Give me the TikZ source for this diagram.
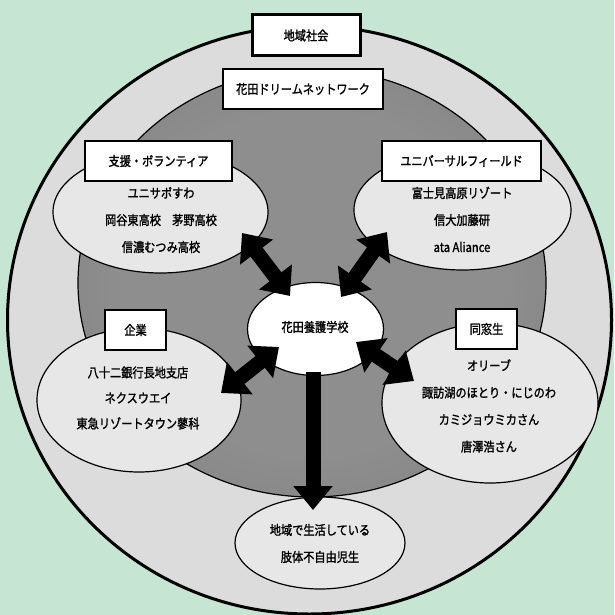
\documentclass[tikz,border=0pt]{standalone}
\usepackage{fontspec}
\usetikzlibrary{shapes.geometric,arrows.meta}
\newfontfamily\jpf[FakeStretch=0.86,FakeBold=1.5]{Noto Sans CJK JP}
\definecolor{bg}{RGB}{199,229,211}
\definecolor{ringin}{RGB}{220,220,220}
\definecolor{ringout}{RGB}{200,200,200}
\definecolor{diskin}{RGB}{142,142,142}
\definecolor{diskout}{RGB}{116,116,116}
\definecolor{ellfill}{RGB}{231,231,231}
\pgfdeclareradialshading{ringsh}{\pgfpoint{0bp}{0bp}}{color(0bp)=(ringin); color(30bp)=(ringin); color(50bp)=(ringout)}
\pgfdeclareradialshading{disksh}{\pgfpoint{0bp}{0bp}}{color(0bp)=(diskin); color(20bp)=(diskin); color(50bp)=(diskout)}
\tikzset{
  ellnode/.style={ellipse, draw=black, line width=1.2pt, fill=ellfill, inner sep=0pt},
  boxnode/.style={rectangle, draw=black, line width=2pt, fill=white, inner sep=0pt, minimum height=40pt, font=\jpf\fontsize{13}{16}\selectfont},
  txt/.style={align=center, inner sep=0pt, font=\jpf\fontsize{13}{27}\selectfont},
  dblarrow/.style={line width=15pt, black, {Triangle[width=40pt,length=24pt]}-{Triangle[width=40pt,length=24pt]}},
  sglarrow/.style={line width=15pt, black, -{Triangle[width=38pt,length=24pt]}}
}
\begin{document}
\begin{tikzpicture}[x=1pt,y=-1pt]
\useasboundingbox (0,0) rectangle (614,615);
\fill[bg] (0,0) rectangle (614,615);
% rings
\node[ellipse, draw=black, line width=3pt, shading=ringsh, inner sep=0pt, minimum width=604pt, minimum height=588pt] (outer) at (309.5,320) {};
\node[ellipse, draw=black, line width=1.2pt, shading=disksh, inner sep=0pt, minimum width=468pt, minimum height=428pt] (inner) at (312,283) {};
% group ellipses
\node[ellnode, minimum width=215pt, minimum height=122pt] (e1) at (160.5,212) {};
\node[ellnode, minimum width=217pt, minimum height=120pt] (e2) at (462.5,210) {};
\node[ellnode, minimum width=204pt, minimum height=144pt] (e3) at (139,400) {};
\node[ellnode, minimum width=216pt, minimum height=160pt] (e4) at (490,403) {};
\node[ellnode, minimum width=170pt, minimum height=92pt] (e6) at (320,543) {};
\node[ellnode, fill=white, minimum width=136pt, minimum height=93pt] (c) at (315.5,329) {};
% texts in ellipses
\node[txt] (t1) at (161,220) {ユニサポすわ\\岡谷東高校　茅野高校\\信濃むつみ高校};
\node[txt] (t2) at (462,219.5) {富士見高原リゾート\\信大加藤研\\ata Aliance};
\node[txt, font=\jpf\fontsize{13}{25.5}\selectfont] (t3) at (138,398) {八十二銀行長地支店\\ネクスウエイ\\東急リゾートタウン蓼科};
\node[txt] (t4) at (489,406) {オリーブ\\諏訪湖のほとり・にじのわ\\カミジョウミカさん\\唐澤浩さん};
\node[txt] (t6) at (320,543.5) {地域で生活している\\肢体不自由児生};
\node[txt] (tc) at (315,327) {花田養護学校};
% boxes
\node[boxnode, line width=3pt, minimum width=108pt, minimum height=41pt] (b0) at (306,35.5) {地域社会};
\node[boxnode, minimum width=160pt] (b1) at (303,89) {花田ドリームネットワーク};
\node[boxnode, minimum width=147pt] (b2) at (158.5,161) {支援・ボランティア};
\node[boxnode, minimum width=159pt] (b3) at (461.5,161) {ユニバーサルフィールド};
\node[boxnode, minimum width=61pt] (b4) at (135.5,330) {企業};
\node[boxnode, minimum width=61pt] (b5) at (486.5,329) {同窓生};
% arrow end points
\coordinate (a1s) at (242,233);
\coordinate (a1e) at (290,296);
\coordinate (a2s) at (387,232);
\coordinate (a2e) at (341,297);
\coordinate (a3s) at (221,393);
\coordinate (a3e) at (279,347);
\coordinate (a4s) at (356,342);
\coordinate (a4e) at (414,381);
\coordinate (a5s) at (313,372);
\coordinate (a5e) at (313,510);
\draw[dblarrow] (a1s) -- (a1e);
\draw[dblarrow] (a2s) -- (a2e);
\draw[dblarrow] (a3s) -- (a3e);
\draw[dblarrow] (a4s) -- (a4e);
\draw[sglarrow] (a5s) -- (a5e);
\end{tikzpicture}
\end{document}
